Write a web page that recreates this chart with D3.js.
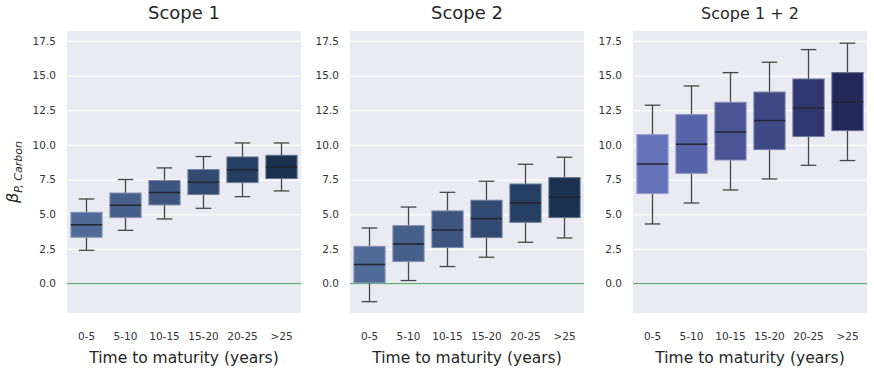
<!DOCTYPE html>
<html>
<head>
<meta charset="utf-8">
<script src="https://cdn.jsdelivr.net/npm/d3@7"></script>
<style>
  body { margin: 0; background: #fff; }
  text { font-family: "DejaVu Sans", sans-serif; }
</style>
</head>
<body>
<div id="container"></div>
<script>
// maturity buckets
const categories = ["0-5", "5-10", "10-15", "15-20", "20-25", ">25"];

// [whisker low, Q1, median, Q3, whisker high] per bucket
const scope1Stats = [
    [2.40, 3.34, 4.25, 5.14, 6.10],
    [3.84, 4.76, 5.65, 6.53, 7.50],
    [4.66, 5.67, 6.56, 7.43, 8.34],
    [5.43, 6.42, 7.30, 8.22, 9.16],
    [6.27, 7.28, 8.19, 9.13, 10.14],
    [6.68, 7.57, 8.41, 9.25, 10.14]
];
const scope2Stats = [
    [-1.30, 0.05, 1.37, 2.69, 4.01],
    [0.22, 1.59, 2.86, 4.18, 5.52],
    [1.23, 2.60, 3.87, 5.24, 6.58],
    [1.90, 3.32, 4.69, 6.01, 7.38],
    [2.98, 4.42, 5.81, 7.18, 8.60],
    [3.29, 4.76, 6.22, 7.64, 9.11]
];
const scope12Stats = [
    [4.30, 6.49, 8.62, 10.74, 12.86],
    [5.81, 7.95, 10.04, 12.18, 14.25],
    [6.75, 8.91, 10.93, 13.07, 15.21],
    [7.54, 9.66, 11.75, 13.81, 15.96],
    [8.53, 10.60, 12.66, 14.75, 16.87],
    [8.87, 11.03, 13.07, 15.21, 17.33]
];

const panelTitles = ["Scope 1", "Scope 2", "Scope 1 + 2"];
const yTicks = [0, 2.5, 5, 7.5, 10, 12.5, 15, 17.5];

const bluePalette = ["#506b97", "#47608b", "#3d557f", "#324a71", "#253e61", "#1a3250"];
const indigoPalette = ["#6673b9", "#5864a8", "#4b5595", "#3e4884", "#30376e", "#22285a"];

const width = 874;
const height = 370;
const plotTop = 31, plotBottom = 313;

const panels = [
    { title: panelTitles[0], stats: scope1Stats, colors: bluePalette, x0: 67, x1: 301, size: 18 },
    { title: panelTitles[1], stats: scope2Stats, colors: bluePalette, x0: 350, x1: 584, size: 18 },
    { title: panelTitles[2], stats: scope12Stats, colors: indigoPalette, x0: 633, x1: 867, size: 16 }
];

const svg = d3.select("#container").append("svg")
    .attr("width", width)
    .attr("height", height);

const y = d3.scaleLinear()
    .domain([-2.12, 18.21])
    .range([plotBottom, plotTop]);

panels.forEach(p => {
    const x = d3.scaleBand()
        .domain(categories)
        .range([p.x0, p.x1]);

    const g = svg.append("g");

    g.append("rect")
        .attr("x", p.x0)
        .attr("y", plotTop)
        .attr("width", p.x1 - p.x0)
        .attr("height", plotBottom - plotTop)
        .attr("fill", "#eaeaf2");

    // horizontal grid
    g.append("g")
        .attr("transform", `translate(${p.x0},0)`)
        .call(d3.axisLeft(y).tickValues(yTicks).tickSize(-(p.x1 - p.x0)).tickFormat(""))
        .call(a => a.select(".domain").remove())
        .call(a => a.selectAll("line").attr("stroke", "#fff").attr("stroke-width", 1.2));

    // y tick labels
    g.append("g")
        .attr("transform", `translate(${p.x0},0)`)
        .call(d3.axisLeft(y).tickValues(yTicks).tickSize(0).tickPadding(11).tickFormat(d3.format(".1f")))
        .call(a => a.select(".domain").remove())
        .call(a => a.selectAll("text")
            .attr("fill", "#333")
            .style("font-size", "10.5px")
            .style("font-family", "DejaVu Sans"));

    // x tick labels
    g.append("g")
        .attr("transform", `translate(0,${plotBottom})`)
        .call(d3.axisBottom(x).tickSize(0).tickPadding(20))
        .call(a => a.select(".domain").remove())
        .call(a => a.selectAll("text")
            .attr("fill", "#333")
            .style("font-size", "10.5px")
            .style("font-family", "DejaVu Sans"));

    // zero line
    g.append("line")
        .attr("x1", p.x0).attr("x2", p.x1)
        .attr("y1", y(0)).attr("y2", y(0))
        .attr("stroke", "#5cae74")
        .attr("stroke-width", 1.2);

    const boxW = x.bandwidth() * 0.8;
    const capW = boxW / 2;

    const boxes = g.selectAll(".box")
        .data(p.stats.map((s, i) => ({ cat: categories[i], s, color: p.colors[i] })))
        .enter().append("g")
        .attr("class", "box");

    const cx = d => x(d.cat) + x.bandwidth() / 2;

    // whiskers
    boxes.append("line")
        .attr("x1", cx).attr("x2", cx)
        .attr("y1", d => y(d.s[0])).attr("y2", d => y(d.s[1]))
        .attr("stroke", "#454545").attr("stroke-width", 1.3);
    boxes.append("line")
        .attr("x1", cx).attr("x2", cx)
        .attr("y1", d => y(d.s[3])).attr("y2", d => y(d.s[4]))
        .attr("stroke", "#454545").attr("stroke-width", 1.3);
    // caps
    [0, 4].forEach(k => {
        boxes.append("line")
            .attr("x1", d => cx(d) - capW / 2).attr("x2", d => cx(d) + capW / 2)
            .attr("y1", d => y(d.s[k])).attr("y2", d => y(d.s[k]))
            .attr("stroke", "#454545").attr("stroke-width", 1.3);
    });

    boxes.append("rect")
        .attr("x", d => cx(d) - boxW / 2)
        .attr("width", boxW)
        .attr("y", d => y(d.s[3]))
        .attr("height", d => y(d.s[1]) - y(d.s[3]))
        .attr("fill", d => d.color)
        .attr("stroke", d => d3.interpolateRgb(d.color, "#eaeaf2")(0.35))
        .attr("stroke-width", 1);

    boxes.append("line")
        .attr("x1", d => cx(d) - boxW / 2).attr("x2", d => cx(d) + boxW / 2)
        .attr("y1", d => y(d.s[2])).attr("y2", d => y(d.s[2]))
        .attr("stroke", "#23262e").attr("stroke-width", 1.5);

    // title
    svg.append("text")
        .attr("x", (p.x0 + p.x1) / 2)
        .attr("y", 19)
        .attr("text-anchor", "middle")
        .attr("fill", "#262626")
        .style("font-size", `${p.size}px`)
        .text(p.title);

    // x label
    svg.append("text")
        .attr("x", (p.x0 + p.x1) / 2)
        .attr("y", 363)
        .attr("text-anchor", "middle")
        .attr("fill", "#262626")
        .style("font-size", "15.5px")
        .text("Time to maturity (years)");
});

// y-axis label
const yLabel = svg.append("text")
    .attr("transform", `translate(18,${(plotTop + plotBottom) / 2}) rotate(-90)`)
    .attr("text-anchor", "middle")
    .attr("fill", "#262626")
    .style("font-size", "16px")
    .style("font-style", "italic");
yLabel.append("tspan").text("β");
yLabel.append("tspan")
    .attr("dy", 4)
    .style("font-size", "11px")
    .text("P, Carbon");
</script>
</body>
</html>
